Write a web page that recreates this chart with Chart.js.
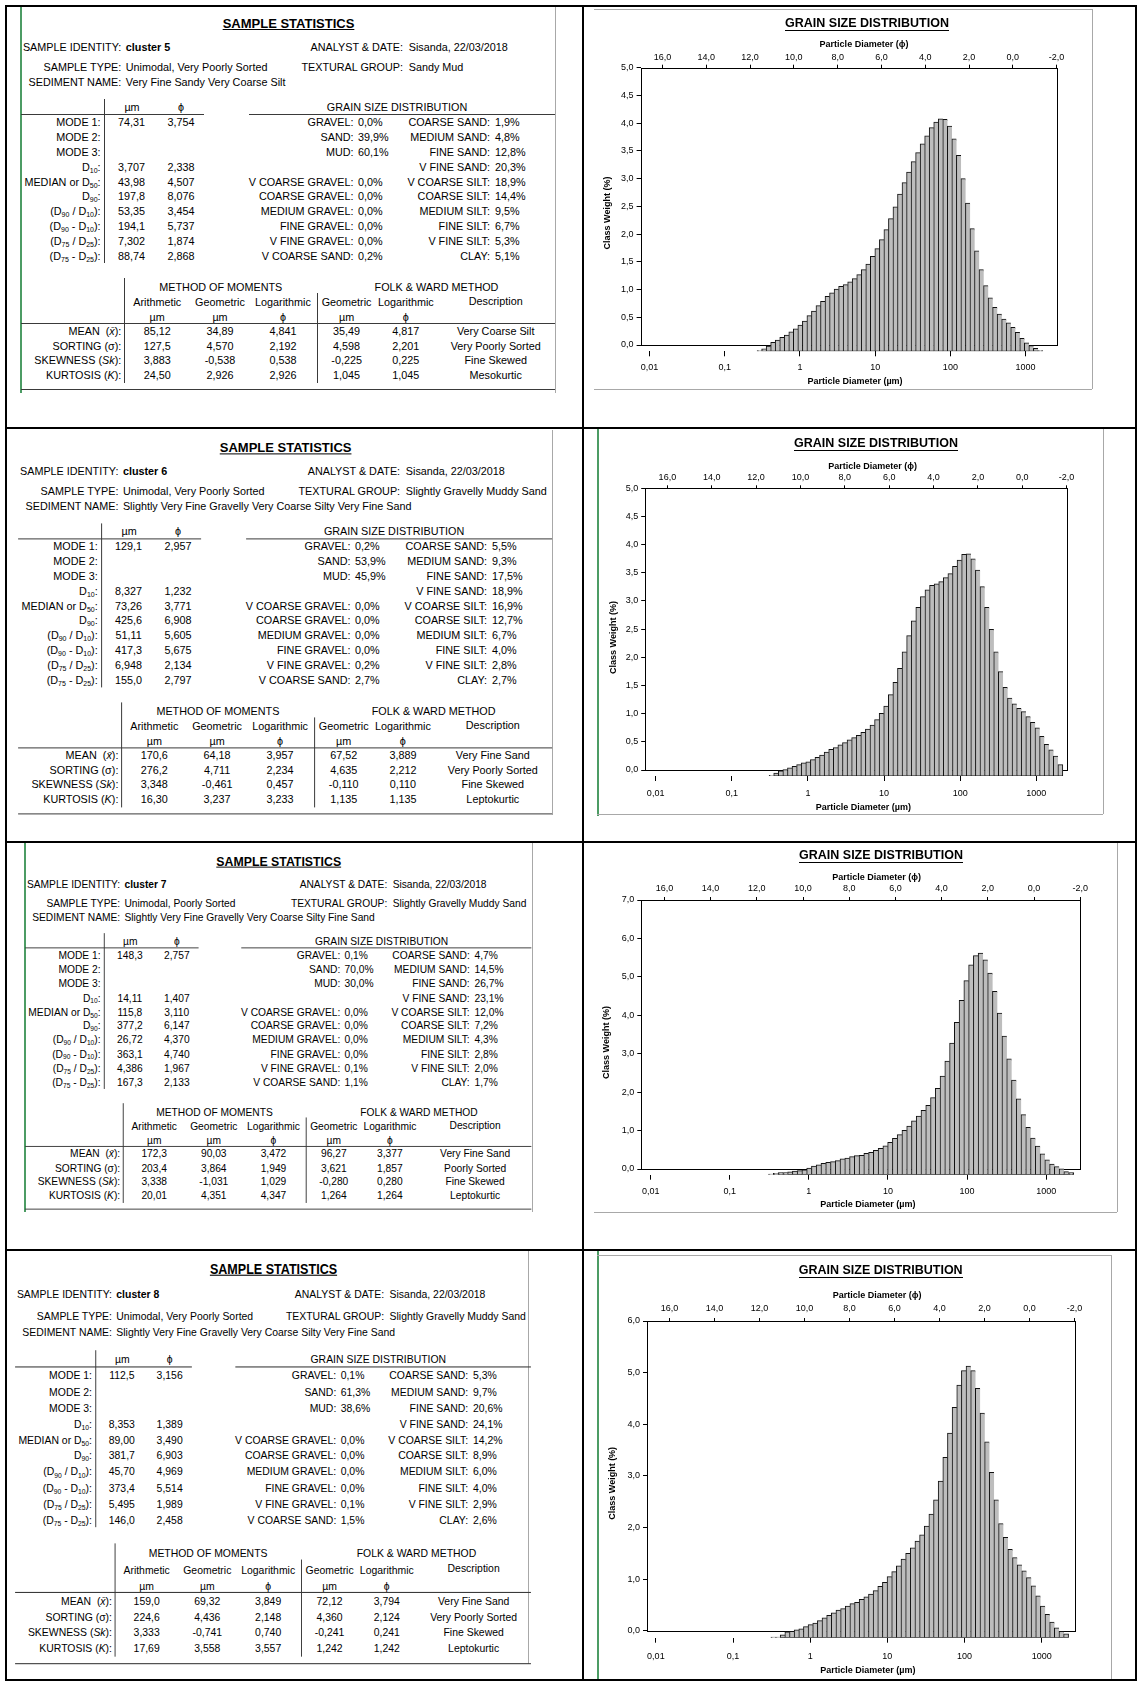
<!DOCTYPE html>
<html>
<head>
<meta charset="utf-8">
<title>Sample statistics and grain size distribution – clusters 5 to 8</title>
<script src="https://cdn.jsdelivr.net/npm/chart.js@4.4.1/dist/chart.umd.min.js"></script>
<style>
  html, body { margin: 0; padding: 0; background: #fff; overflow: hidden; }
  #page { position: relative; width: 1139px; height: 1681px; overflow: hidden;
          font-family: "Liberation Sans", Arial, Helvetica, sans-serif; color: #000; }
  .panel { position: absolute; left: 0; top: 0; width: 580px; height: 400px; transform-origin: 0 0; }
  .t { position: absolute; white-space: nowrap; font-size: 10.8px; line-height: 12px; }
  .r { transform: translate(-100%, -50%); }
  .c { transform: translate(-50%, -50%); }
  .l { transform: translate(0, -50%); }
  .rule { position: absolute; }
  sub { font-size: 7px; vertical-align: -2px; line-height: 0; }
  canvas { position: absolute; }
</style>
</head>
<body>
<div id="page"></div>
<script>
const FONT = "'Liberation Sans', Arial, Helvetica, sans-serif";

// ---- grain size classes (0.2 phi bins, mid-points, fine to coarse) ----
const PHI_CLASSES = [11.75, 11.55, 11.35, 11.15, 10.95, 10.75, 10.55, 10.35, 10.15, 9.95,
  9.75, 9.55, 9.35, 9.15, 8.95, 8.75, 8.55, 8.35, 8.15, 7.95,
  7.75, 7.55, 7.35, 7.15, 6.95, 6.75, 6.55, 6.35, 6.15, 5.95,
  5.75, 5.55, 5.35, 5.15, 4.95, 4.75, 4.55, 4.35, 4.15, 3.95,
  3.75, 3.55, 3.35, 3.15, 2.95, 2.75, 2.55, 2.35, 2.15, 1.95,
  1.75, 1.55, 1.35, 1.15, 0.95, 0.75, 0.55, 0.35, 0.15, -0.05,
  -0.25, -0.45, -0.65, -0.85, -1.05];

// class weights (%) per cluster, aligned with PHI_CLASSES (null = empty class)
const WEIGHTS_C5 = [0.01, 0.04, 0.09, 0.16, 0.20, 0.25, 0.29, 0.35, 0.40, 0.47,
  0.54, 0.64, 0.72, 0.82, 0.90, 0.99, 1.05, 1.12, 1.17, 1.20,
  1.25, 1.31, 1.38, 1.47, 1.57, 1.71, 1.85, 2.01, 2.19, 2.39,
  2.60, 2.83, 3.04, 3.23, 3.42, 3.58, 3.74, 3.88, 4.03, 4.13,
  4.19, 4.18, 4.06, 3.83, 3.53, 3.11, 2.67, 2.21, 1.81, 1.47,
  1.18, 0.96, 0.79, 0.67, 0.58, 0.51, 0.43, 0.34, 0.23, 0.15,
  0.10, 0.05, 0.01, null, null];
const WEIGHTS_C6 = [null, 0.01, 0.05, 0.09, 0.11, 0.14, 0.17, 0.20, 0.23, 0.25, 0.29,
  0.33, 0.37, 0.42, 0.47, 0.50, 0.55, 0.59, 0.64, 0.68, 0.72,
  0.77, 0.83, 0.90, 1.00, 1.11, 1.24, 1.44, 1.66, 1.91, 2.20,
  2.49, 2.75, 2.99, 3.18, 3.30, 3.38, 3.41, 3.45, 3.52, 3.59,
  3.72, 3.83, 3.93, 3.94, 3.85, 3.65, 3.36, 2.99, 2.60, 2.20,
  1.85, 1.57, 1.38, 1.28, 1.20, 1.14, 1.05, 0.95, 0.85, 0.70,
  0.56, 0.46, 0.35, 0.20];
const WEIGHTS_C7 = [null, 0.01, 0.03, 0.05, 0.05, 0.07, 0.09, 0.10, 0.12, 0.17, 0.22,
  0.25, 0.29, 0.32, 0.34, 0.36, 0.41, 0.43, 0.47, 0.49, 0.50,
  0.55, 0.58, 0.63, 0.68, 0.75, 0.84, 0.94, 1.04, 1.15, 1.26,
  1.40, 1.52, 1.67, 1.80, 2.00, 2.24, 2.56, 2.95, 3.42, 3.96,
  4.53, 5.05, 5.46, 5.70, 5.76, 5.59, 5.24, 4.77, 4.20, 3.60,
  3.01, 2.46, 1.97, 1.56, 1.23, 0.95, 0.74, 0.54, 0.38, 0.27,
  0.21, 0.15, 0.08, 0.05];
const WEIGHTS_C8 = [null, 0.01, 0.01, 0.05, 0.11, 0.12, 0.15, 0.17, 0.21, 0.25, 0.28,
  0.33, 0.38, 0.43, 0.48, 0.53, 0.56, 0.61, 0.66, 0.68, 0.74,
  0.79, 0.84, 0.91, 0.99, 1.07, 1.18, 1.28, 1.39, 1.52, 1.63,
  1.74, 1.87, 1.99, 2.16, 2.39, 2.67, 3.03, 3.49, 3.96, 4.46,
  4.89, 5.17, 5.26, 5.17, 4.83, 4.35, 3.79, 3.20, 2.67, 2.21,
  1.94, 1.71, 1.55, 1.41, 1.29, 1.16, 1.00, 0.81, 0.61, 0.45,
  0.30, 0.19, 0.12, 0.07];

// axis ticks
const PHI_TICKS = [16, 14, 12, 10, 8, 6, 4, 2, 0, -2];
const UM_TICKS = [0.01, 0.1, 1, 10, 100, 1000];
const Y_TICKS_HALF = [0, 0.5, 1, 1.5, 2, 2.5, 3, 3.5, 4, 4.5, 5];
const Y_TICKS_6 = [0, 1, 2, 3, 4, 5, 6];
const Y_TICKS_7 = [0, 1, 2, 3, 4, 5, 6, 7];

// ---- sample statistics text ----
const SAMPLE_ID = ['cluster 5', 'cluster 6', 'cluster 7', 'cluster 8'];
const ANALYST_DATE = ['Sisanda, 22/03/2018', 'Sisanda, 22/03/2018', 'Sisanda, 22/03/2018', 'Sisanda, 22/03/2018'];
const SAMPLE_TYPE = ['Unimodal, Very Poorly Sorted', 'Unimodal, Very Poorly Sorted',
  'Unimodal, Poorly Sorted', 'Unimodal, Very Poorly Sorted'];
const TEXTURAL_GROUP = ['Sandy Mud', 'Slightly Gravelly Muddy Sand',
  'Slightly Gravelly Muddy Sand', 'Slightly Gravelly Muddy Sand'];
const SEDIMENT_NAME = ['Very Fine Sandy Very Coarse Silt',
  'Slightly Very Fine Gravelly Very Coarse Silty Very Fine Sand',
  'Slightly Very Fine Gravelly Very Coarse Silty Fine Sand',
  'Slightly Very Fine Gravelly Very Coarse Silty Very Fine Sand'];

const SIZE_ROW_LABELS = ['MODE 1:', 'MODE 2:', 'MODE 3:', 'D<sub>10</sub>:', 'MEDIAN or D<sub>50</sub>:',
  'D<sub>90</sub>:', '(D<sub>90</sub> / D<sub>10</sub>):', '(D<sub>90</sub> - D<sub>10</sub>):',
  '(D<sub>75</sub> / D<sub>25</sub>):', '(D<sub>75</sub> - D<sub>25</sub>):'];
const SIZE_UM = [
  ['74,31', '', '', '3,707', '43,98', '197,8', '53,35', '194,1', '7,302', '88,74'],
  ['129,1', '', '', '8,327', '73,26', '425,6', '51,11', '417,3', '6,948', '155,0'],
  ['148,3', '', '', '14,11', '115,8', '377,2', '26,72', '363,1', '4,386', '167,3'],
  ['112,5', '', '', '8,353', '89,00', '381,7', '45,70', '373,4', '5,495', '146,0']];
const SIZE_PHI = [
  ['3,754', '', '', '2,338', '4,507', '8,076', '3,454', '5,737', '1,874', '2,868'],
  ['2,957', '', '', '1,232', '3,771', '6,908', '5,605', '5,675', '2,134', '2,797'],
  ['2,757', '', '', '1,407', '3,110', '6,147', '4,370', '4,740', '1,967', '2,133'],
  ['3,156', '', '', '1,389', '3,490', '6,903', '4,969', '5,514', '1,989', '2,458']];

const GSD_LEFT_LABELS = ['GRAVEL:', 'SAND:', 'MUD:', '', 'V COARSE GRAVEL:', 'COARSE GRAVEL:',
  'MEDIUM GRAVEL:', 'FINE GRAVEL:', 'V FINE GRAVEL:', 'V COARSE SAND:'];
const GSD_RIGHT_LABELS = ['COARSE SAND:', 'MEDIUM SAND:', 'FINE SAND:', 'V FINE SAND:', 'V COARSE SILT:',
  'COARSE SILT:', 'MEDIUM SILT:', 'FINE SILT:', 'V FINE SILT:', 'CLAY:'];
const GSD_LEFT = [
  ['0,0%', '39,9%', '60,1%', '', '0,0%', '0,0%', '0,0%', '0,0%', '0,0%', '0,2%'],
  ['0,2%', '53,9%', '45,9%', '', '0,0%', '0,0%', '0,0%', '0,0%', '0,2%', '2,7%'],
  ['0,1%', '70,0%', '30,0%', '', '0,0%', '0,0%', '0,0%', '0,0%', '0,1%', '1,1%'],
  ['0,1%', '61,3%', '38,6%', '', '0,0%', '0,0%', '0,0%', '0,0%', '0,1%', '1,5%']];
const GSD_RIGHT = [
  ['1,9%', '4,8%', '12,8%', '20,3%', '18,9%', '14,4%', '9,5%', '6,7%', '5,3%', '5,1%'],
  ['5,5%', '9,3%', '17,5%', '18,9%', '16,9%', '12,7%', '6,7%', '4,0%', '2,8%', '2,7%'],
  ['4,7%', '14,5%', '26,7%', '23,1%', '12,0%', '7,2%', '4,3%', '2,8%', '2,0%', '1,7%'],
  ['5,3%', '9,7%', '20,6%', '24,1%', '14,2%', '8,9%', '6,0%', '4,0%', '2,9%', '2,6%']];

const MOMENT_LABELS = ['MEAN&nbsp; (<i>x&#772;</i>):', 'SORTING (&sigma;):', 'SKEWNESS (<i>Sk</i>):', 'KURTOSIS (<i>K</i>):'];
const MOMENT_HEADS = ['Arithmetic', 'Geometric', 'Logarithmic', 'Geometric', 'Logarithmic'];
const MOMENT_UNITS = ['&micro;m', '&micro;m', '&#981;', '&micro;m', '&#981;'];
// per cluster: mean, sorting, skewness, kurtosis -> arith, geom, log, F&W geom, F&W log, description
const MOMENTS = [
  [['85,12', '34,89', '4,841', '35,49', '4,817', 'Very Coarse Silt'],
   ['127,5', '4,570', '2,192', '4,598', '2,201', 'Very Poorly Sorted'],
   ['3,883', '-0,538', '0,538', '-0,225', '0,225', 'Fine Skewed'],
   ['24,50', '2,926', '2,926', '1,045', '1,045', 'Mesokurtic']],
  [['170,6', '64,18', '3,957', '67,52', '3,889', 'Very Fine Sand'],
   ['276,2', '4,711', '2,234', '4,635', '2,212', 'Very Poorly Sorted'],
   ['3,348', '-0,461', '0,457', '-0,110', '0,110', 'Fine Skewed'],
   ['16,30', '3,237', '3,233', '1,135', '1,135', 'Leptokurtic']],
  [['172,3', '90,03', '3,472', '96,27', '3,377', 'Very Fine Sand'],
   ['203,4', '3,864', '1,949', '3,621', '1,857', 'Poorly Sorted'],
   ['3,338', '-1,031', '1,029', '-0,280', '0,280', 'Fine Skewed'],
   ['20,01', '4,351', '4,347', '1,264', '1,264', 'Leptokurtic']],
  [['159,0', '69,32', '3,849', '72,12', '3,794', 'Very Fine Sand'],
   ['224,6', '4,436', '2,148', '4,360', '2,124', 'Very Poorly Sorted'],
   ['3,333', '-0,741', '0,740', '-0,241', '0,241', 'Fine Skewed'],
   ['17,69', '3,558', '3,557', '1,242', '1,242', 'Leptokurtic']]];

// ---- layout ----
// each statistics sheet is laid out once and placed with its own scale/offset
const PANEL_FRAMES = [
  { sx: 1, sy: 1, tx: 0, ty: 0 },
  { sx: 1, sy: 1, tx: -2.9, ty: 424.4 },
  { sx: 0.948, sy: 0.95, tx: 5.2, ty: 839.1 },
  { sx: 0.966, sy: 1.079, tx: -5.2, ty: 1243.4 }];

// chart boxes in page pixels: canvas box, plot frame, bar baseline, captions
const CHART_BOXES = [
  { left: 594, top: 9, width: 498, height: 380, frameL: 640.6, frameR: 1056.6, frameT: 67.7,
    zeroY: 345, baseY: 351.3, xMin: -2.118, xMax: 3.412, umPad: 6, phiPad: 2,
    title: [867, 24], phiTitle: [864, 45], umTitle: [855, 382], yTitle: [608, 213] },
  { left: 598, top: 430, width: 505, height: 384, frameL: 645.2, frameR: 1066.6, frameT: 488.3,
    zeroY: 770, baseY: 776, xMin: -2.137, xMax: 3.398, umPad: 7, phiPad: 2,
    title: [876, 444], phiTitle: [872.7, 466.7], umTitle: [863.4, 807.7], yTitle: [614, 637.5] },
  { left: 594, top: 843, width: 522, height: 368, frameL: 641.3, frameR: 1080.2, frameT: 900,
    zeroY: 1169, baseY: 1174.7, xMin: -2.118, xMax: 3.43, umPad: 6, phiPad: 3,
    title: [881, 856], phiTitle: [876.6, 877.7], umTitle: [867.9, 1205], yTitle: [606.7, 1042.5] },
  { left: 598, top: 1256, width: 512, height: 424, frameL: 647, frameR: 1074.5, frameT: 1321,
    zeroY: 1630.7, baseY: 1637.7, xMin: -2.115, xMax: 3.425, umPad: 8, phiPad: 4,
    title: [880.7, 1271], phiTitle: [877.1, 1296], umTitle: [867.9, 1671], yTitle: [613, 1483.3] }];

const page = document.getElementById('page');

function addText(parent, html, x, y, align, css) {
  const el = document.createElement('div');
  el.className = 't ' + align;
  el.style.left = x + 'px';
  el.style.top = y + 'px';
  if (css) el.style.cssText += css;
  el.innerHTML = html;
  parent.appendChild(el);
}

function addRule(parent, x, y, w, h, color) {
  const el = document.createElement('div');
  el.className = 'rule';
  el.style.left = x + 'px';
  el.style.top = y + 'px';
  el.style.width = w + 'px';
  el.style.height = h + 'px';
  el.style.background = color;
  parent.appendChild(el);
}

// sheet edges and the black table grid around the eight cells
const LINE = '#3a3a3a';
const SHEET = '#a8a8a8';
const GREEN = '#4c9c64';
addRule(page, 20, 7, 1.5, 386, GREEN);
addRule(page, 555, 7, 1, 386, SHEET);
addRule(page, 552, 430, 1, 385, SHEET);
addRule(page, 24, 843, 1.5, 369, GREEN);
addRule(page, 531.6, 843, 1, 369, SHEET);
addRule(page, 528, 1251, 1, 413, SHEET);
addRule(page, 594, 9, 498, 1, SHEET);
addRule(page, 1091.6, 9, 1, 380, SHEET);
addRule(page, 594, 389, 498, 1, SHEET);
addRule(page, 597, 429, 1.5, 387, GREEN);
addRule(page, 1103, 429, 1, 385, SHEET);
addRule(page, 597, 814, 506, 1, SHEET);
addRule(page, 1116.5, 843, 1, 369, SHEET);
addRule(page, 594, 1211.7, 523, 1, SHEET);
addRule(page, 597, 1251, 1.5, 430, GREEN);
addRule(page, 597, 1255, 514, 1, SHEET);
addRule(page, 1110.5, 1255, 1, 426, SHEET);
[5, 427, 841, 1249, 1679].forEach(y => addRule(page, 5, y, 1132, 2, '#000'));
[5, 582, 1135].forEach(x => addRule(page, x, 5, 2, 1676, '#000'));

function buildPanel(i) {
  const f = PANEL_FRAMES[i];
  const p = document.createElement('div');
  p.className = 'panel';
  p.style.transform = `translate(${f.tx}px, ${f.ty}px) scale(${f.sx}, ${f.sy})`;
  page.appendChild(p);

  addText(p, 'SAMPLE STATISTICS', 288.5, 24, 'c', 'font-weight:bold;font-size:13px;text-decoration:underline;');
  addText(p, 'SAMPLE IDENTITY:', 121.3, 47, 'r');
  addText(p, SAMPLE_ID[i], 125.8, 47, 'l', 'font-weight:bold;');
  addText(p, 'ANALYST &amp; DATE:', 403, 47, 'r');
  addText(p, ANALYST_DATE[i], 408.7, 47, 'l');
  addText(p, 'SAMPLE TYPE:', 121.3, 67, 'r');
  addText(p, SAMPLE_TYPE[i], 125.8, 67, 'l');
  addText(p, 'TEXTURAL GROUP:', 403, 67, 'r');
  addText(p, TEXTURAL_GROUP[i], 408.7, 67, 'l');
  addText(p, 'SEDIMENT NAME:', 121.3, 81.7, 'r');
  addText(p, SEDIMENT_NAME[i], 125.8, 81.7, 'l');

  // percentiles table
  addText(p, '&micro;m', 132, 107, 'c');
  addText(p, '&#981;', 181, 107, 'c');
  addRule(p, 21, 114, 183, 1, LINE);
  addRule(p, 103.6, 99, 1, 164, LINE);
  SIZE_ROW_LABELS.forEach((lab, r) => {
    const y = 121.7 + r * 14.95;
    addText(p, lab, 100.6, y, 'r');
    if (SIZE_UM[i][r]) addText(p, SIZE_UM[i][r], 131.5, y, 'c');
    if (SIZE_PHI[i][r]) addText(p, SIZE_PHI[i][r], 181, y, 'c');
  });

  // grain size distribution table
  addText(p, 'GRAIN SIZE DISTRIBUTION', 397, 107, 'c');
  addRule(p, 248.6, 114, 306.4, 1, LINE);
  for (let r = 0; r < 10; r++) {
    const y = 121.7 + r * 14.95;
    if (GSD_LEFT_LABELS[r]) {
      addText(p, GSD_LEFT_LABELS[r], 353.5, y, 'r');
      addText(p, GSD_LEFT[i][r], 358, y, 'l');
    }
    addText(p, GSD_RIGHT_LABELS[r], 490, y, 'r');
    addText(p, GSD_RIGHT[i][r], 495, y, 'l');
  }

  // moments / Folk & Ward table
  const cols = [157.2, 220, 283, 346.6, 405.8];
  addRule(p, 124, 278, 1, 105, LINE);
  addRule(p, 317.4, 293, 1, 90, LINE);
  addText(p, 'METHOD OF MOMENTS', 220.8, 286.7, 'c');
  addText(p, 'FOLK &amp; WARD METHOD', 436.5, 286.7, 'c');
  MOMENT_HEADS.forEach((h, c) => addText(p, h, cols[c], 301.7, 'c'));
  addText(p, 'Description', 495.7, 300.7, 'c');
  MOMENT_UNITS.forEach((u, c) => addText(p, u, cols[c], 316.7, 'c'));
  addRule(p, 21, 323, 534, 1, LINE);
  MOMENT_LABELS.forEach((lab, r) => {
    const y = 330.7 + r * 14.87;
    addText(p, lab, 121.3, y, 'r');
    MOMENTS[i][r].forEach((v, c) => addText(p, v, c < 5 ? cols[c] : 495.7, y, 'c'));
  });
  addRule(p, 21, 389, 534, 1, LINE);
}

[0, 1, 2, 3].forEach(buildPanel);

// ---- grain size distribution charts ----
const LOG2 = Math.log10(2);
const fmtComma = (v, d) => v.toFixed(d).replace('.', ',');
function umLabel(v) {
  const d = Math.pow(10, v);
  return d < 1 ? fmtComma(d, -Math.round(v)) : String(Math.round(d));
}

// plot frame from the top of the y axis down to the 0,0 line
const gsdFrame = {
  id: 'gsdFrame',
  beforeDatasetsDraw(chart) {
    const { ctx, chartArea: a } = chart;
    const y0 = chart.scales.y.getPixelForValue(0);
    ctx.save();
    ctx.strokeStyle = '#000';
    ctx.lineWidth = 1;
    ctx.strokeRect(Math.round(a.left) + 0.5, Math.round(a.top) + 0.5,
      Math.round(a.right) - Math.round(a.left), Math.round(y0) - Math.round(a.top));
    ctx.restore();
  }
};

// chart heading and axis captions
const gsdText = {
  id: 'gsdText',
  afterDraw(chart, args, opts) {
    const { ctx } = chart;
    const b = opts.box;
    const at = (p) => [p[0] - b.left, p[1] - b.top];
    ctx.save();
    ctx.fillStyle = '#000';
    ctx.textAlign = 'center';
    ctx.textBaseline = 'middle';

    ctx.font = `bold 12.5px ${FONT}`;
    const [hx, hy] = at(b.title);
    ctx.fillText('GRAIN SIZE DISTRIBUTION', hx, hy);
    const w = ctx.measureText('GRAIN SIZE DISTRIBUTION').width;
    ctx.fillRect(Math.round(hx - w / 2), Math.round(hy + 6), Math.round(w), 1);

    ctx.font = `bold 9px ${FONT}`;
    const [px, py] = at(b.phiTitle);
    ctx.fillText('Particle Diameter (\u03D5)', px, py);
    const [ux, uy] = at(b.umTitle);
    ctx.fillText('Particle Diameter (\u00B5m)', ux, uy);
    const [yx, yy] = at(b.yTitle);
    ctx.translate(yx, yy);
    ctx.rotate(-Math.PI / 2);
    ctx.fillText('Class Weight (%)', 0, 0);
    ctx.restore();
  }
};

function gsdChart(box, weights, yTicks) {
  const canvas = document.createElement('canvas');
  canvas.width = box.width;
  canvas.height = box.height;
  canvas.style.left = box.left + 'px';
  canvas.style.top = box.top + 'px';
  page.appendChild(canvas);

  const yMax = yTicks[yTicks.length - 1];
  // bars stand on a baseline drawn a few pixels under the 0,0 line
  const off = (box.baseY - box.zeroY) / (box.zeroY - box.frameT) * yMax;

  const points = [];
  weights.forEach((w, i) => {
    if (w !== null) points.push({ x: 3 - PHI_CLASSES[i] * LOG2, y: w });
  });
  const last = points.length - 1;
  const tickFont = { family: FONT, size: 9 };

  return new Chart(canvas, {
    type: 'bar',
    data: {
      datasets: [{
        data: points,
        xAxisID: 'xb',
        yAxisID: 'yb',
        backgroundColor: '#bdbdbd',
        borderColor: '#111',
        borderWidth: (c) => c.dataIndex === last ? 1 : { top: 1, left: 1, right: 0, bottom: 1 },
        borderSkipped: false,
        inflateAmount: 0.5,
        categoryPercentage: 1,
        barPercentage: 1,
      }],
    },
    options: {
      responsive: false,
      animation: false,
      devicePixelRatio: 1,
      layout: { padding: { left: 0, top: 0, bottom: 0, right: box.left + box.width - box.frameR } },
      plugins: {
        legend: { display: false },
        tooltip: { enabled: false },
        gsdText: { box },
      },
      scales: {
        xb: {
          type: 'linear',
          position: 'bottom',
          offset: false,
          min: box.xMin,
          max: box.xMax,
          afterBuildTicks: (s) => { s.ticks = UM_TICKS.map((v) => ({ value: Math.log10(v) })); },
          afterFit: (s) => { s.height = box.top + box.height - box.baseY; },
          grid: { offset: false, drawOnChartArea: false, drawTicks: true, tickLength: 5, color: '#000' },
          border: { display: false },
          ticks: { font: tickFont, color: '#000', padding: box.umPad, maxRotation: 0, autoSkip: false,
            callback: (v) => umLabel(v) },
        },
        xt: {
          type: 'linear',
          position: 'top',
          offset: false,
          reverse: true,
          min: -2,
          max: 17,
          afterBuildTicks: (s) => { s.ticks = PHI_TICKS.map((v) => ({ value: v })); },
          afterFit: (s) => { s.height = box.frameT - box.top; },
          grid: { offset: false, drawOnChartArea: false, drawTicks: true, tickLength: 3, color: '#000' },
          border: { display: false },
          ticks: { font: tickFont, color: '#000', padding: box.phiPad, maxRotation: 0, autoSkip: false,
            callback: (v) => fmtComma(v, 1) },
        },
        y: {
          type: 'linear',
          position: 'left',
          min: -off,
          max: yMax,
          afterBuildTicks: (s) => { s.ticks = yTicks.map((v) => ({ value: v })); },
          afterFit: (s) => { s.width = box.frameL - box.left; },
          grid: { drawOnChartArea: false, drawTicks: true, tickLength: 4, color: '#000' },
          border: { display: false },
          ticks: { font: tickFont, color: '#000', padding: 3, autoSkip: false,
            callback: (v) => fmtComma(v, 1) },
        },
        yb: { type: 'linear', display: false, min: 0, max: yMax + off },
      },
    },
    plugins: [gsdFrame, gsdText],
  });
}

gsdChart(CHART_BOXES[0], WEIGHTS_C5, Y_TICKS_HALF);
gsdChart(CHART_BOXES[1], WEIGHTS_C6, Y_TICKS_HALF);
gsdChart(CHART_BOXES[2], WEIGHTS_C7, Y_TICKS_7);
gsdChart(CHART_BOXES[3], WEIGHTS_C8, Y_TICKS_6);
</script>
</body>
</html>
